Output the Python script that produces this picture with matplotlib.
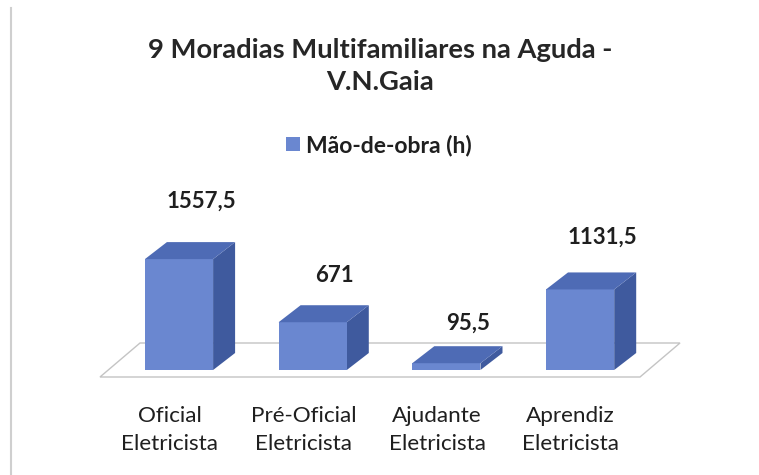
import matplotlib
matplotlib.use("Agg")
import matplotlib.pyplot as plt
from matplotlib.patches import Polygon
from matplotlib.lines import Line2D

categories = ["Oficial\nEletricista", "Pré-Oficial\nEletricista", "Ajudante\nEletricista", "Aprendiz\nEletricista"]
values = [1557.5, 671, 95.5, 1131.5]
value_labels = ["1557,5", "671", "95,5", "1131,5"]
series_name = "Mão-de-obra (h)"
title = "9 Moradias Multifamiliares na Aguda -\nV.N.Gaia"

W, H = 759, 475
fig = plt.figure(figsize=(W / 100, H / 100), dpi=100)
fig.patch.set_facecolor("white")

# pixel <-> data mapping constants (layout)
x0_px, x_step = 179.0, 133.7
y0_px, y_scale = 370.0, 0.0712
ax = fig.add_axes([0, 0, 1, 1])
ax.set_xlim((0 - x0_px) / x_step, (W - x0_px) / x_step)
ax.set_ylim((y0_px - H) / y_scale, (y0_px - 0) / y_scale)
ax.axis("off")

front = "#6a87d0"
top_c = "#4e6bb5"
side_c = "#3f5a9e"

half = 0.255
ddx = 22 / x_step
ddy = 17 / y_scale

# floor
fl_front_y = (y0_px - 377) / y_scale
fl_back_y = (y0_px - 343) / y_scale
fl_l = (100 - x0_px) / x_step
fl_r = (640 - x0_px) / x_step
fdx = 40 / x_step
floor = Polygon([(fl_l, fl_front_y), (fl_r, fl_front_y), (fl_r + fdx, fl_back_y), (fl_l + fdx, fl_back_y)],
                closed=True, facecolor="none", edgecolor="#c4c4c4", lw=1.0, zorder=0)
ax.add_patch(floor)

xs = list(range(len(values)))
bars = ax.bar(xs, values, width=2 * half, color=front, edgecolor="none", zorder=3, label=series_name)
for i, v in zip(xs, values):
    topf = Polygon([(i - half, v), (i + half, v), (i + half + ddx, v + ddy), (i - half + ddx, v + ddy)],
                   closed=True, facecolor=top_c, edgecolor="none", zorder=3)
    sidef = Polygon([(i + half, 0), (i + half, v), (i + half + ddx, v + ddy), (i + half + ddx, ddy)],
                    closed=True, facecolor=side_c, edgecolor="none", zorder=2)
    ax.add_patch(topf)
    ax.add_patch(sidef)

for i, v, lab in zip(xs, values, value_labels):
    y = v * 1.1685 + ddy + 22 / y_scale
    ax.text(i + ddx, y, lab, ha="center", va="center", fontsize=16, fontweight="bold",
            family="Lato", color="#1f1f1f")

cat_y = (y0_px - 430) / y_scale
for i, c in zip(xs, categories):
    ax.text(i - 0.07, cat_y, c, ha="center", va="center", fontsize=16.2, family="Lato",
            color="#1f1f1f", linespacing=1.45)

fig.text(380 / W, 1 - 66 / H, title, ha="center", va="center", fontsize=19.7, fontweight="bold",
         family="Lato", color="#262626", linespacing=1.4)

leg = fig.legend(handles=[bars], labels=[series_name], loc="center",
                 bbox_to_anchor=(379 / W, 1 - 145 / H), frameon=False,
                 prop={"family": "Lato", "weight": "bold", "size": 16.5},
                 handlelength=0.6, handleheight=0.6, handletextpad=0.25)
for t in leg.get_texts():
    t.set_color("#1f1f1f")

fig.add_artist(Line2D([11 / W, 11 / W], [0, 1 - 8 / H], transform=fig.transFigure, color="#cfcfcf", lw=1.5))

fig.savefig("out.png", dpi=100)
